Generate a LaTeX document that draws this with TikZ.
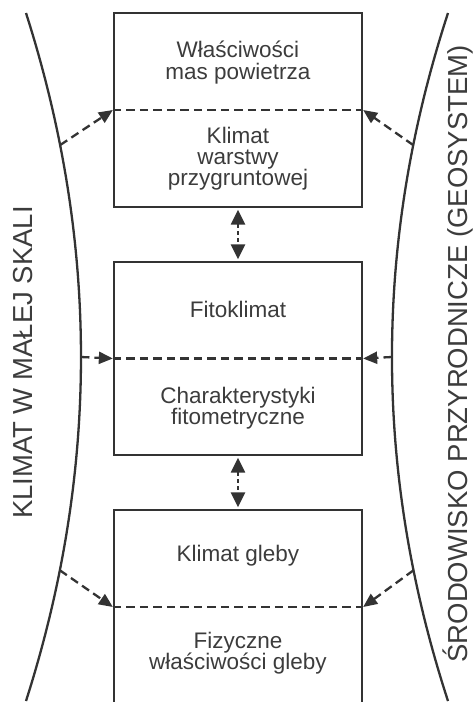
\documentclass[tikz,border=0pt]{standalone}
\usepackage{fontspec}
\setmainfont{Liberation Sans}
\usetikzlibrary{arrows.meta}
\definecolor{ink}{HTML}{333333}
\definecolor{txt}{HTML}{3C3C3C}
\begin{document}
\begin{tikzpicture}[x=1pt,y=-1pt,
  box/.style={draw=ink,line width=2.3pt,minimum width=248pt,inner sep=0pt},
  lbl/.style={text=txt,font=\fontsize{22.5}{24}\selectfont,anchor=base,inner sep=0pt},
  side/.style={text=txt,font=\fontsize{27.5}{30}\selectfont,rotate=90,anchor=base east,inner sep=0pt},
  divline/.style={draw=ink,line width=2.3pt,dash pattern=on 8.5pt off 5pt},
  flow/.style={draw=ink,line width=2.3pt,dash pattern=on 8.5pt off 5pt,-{Triangle[length=14pt,width=12pt]}},
  both/.style={draw=ink,line width=2.3pt,dash pattern=on 4pt off 3pt,{Triangle[length=15pt,width=14pt]}-{Triangle[length=15pt,width=14pt]},shorten <=1.5pt,shorten >=1.5pt},
  curve/.style={draw=ink,line width=2.3pt}]
\useasboundingbox (0,0) rectangle (472,702);
\clip (0,0) rectangle (472,702);
% boxes
\node[box,minimum height=194pt] (b1) at (238,110) {};
\node[box,minimum height=193pt] (b2) at (238,358.5) {};
\node[box,minimum height=194pt] (b3) at (238,607) {};
% dividers
\draw[divline] (b1.west) -- (b1.east);
\draw[divline] (b2.west) -- (b2.east);
\draw[divline] (b3.west) -- (b3.east);
% texts
\node[lbl] (t1a) at (238,57) {Właściwości};
\node[lbl] (t1b) at (238,79) {mas powietrza};
\node[lbl] (t2a) at (238,143) {Klimat};
\node[lbl] (t2b) at (238,164) {warstwy};
\node[lbl] (t2c) at (238,185) {przygruntowej};
\node[lbl] (t3) at (238,317) {Fitoklimat};
\node[lbl] (t4a) at (238,403) {Charakterystyki};
\node[lbl] (t4b) at (238,424) {fitometryczne};
\node[lbl] (t5) at (238,561) {Klimat gleby};
\node[lbl] (t6a) at (238,648) {Fizyczne};
\node[lbl] (t6b) at (238,669) {właściwości gleby};
% side curves
\draw[curve] (26,13) .. controls (99.3,242.3) and (99.3,471.7) .. (26,701)
  coordinate[pos=0.192] (l1) coordinate[pos=0.5] (l2) coordinate[pos=0.81] (l3);
\draw[curve] (448,13) .. controls (373.3,242.3) and (373.3,471.7) .. (448,701)
  coordinate[pos=0.192] (r1) coordinate[pos=0.5] (r2) coordinate[pos=0.81] (r3);
% side labels
\node[side] (sl) at (32,206) {KLIMAT W MAŁEJ SKALI};
\node[side] (sr) at (467,45) {ŚRODOWISKO PRZYRODNICZE (GEOSYSTEM)};
% arrows
\draw[flow] (l1) -- (b1.west);
\draw[flow] (l2) -- (b2.west);
\draw[flow] (l3) -- (b3.west);
\draw[flow] (r1) -- (b1.east);
\draw[flow] (r2) -- (b2.east);
\draw[flow] (r3) -- (b3.east);
\draw[both] (b1.south) -- (b2.north);
\draw[both] (b2.south) -- (b3.north);
\end{tikzpicture}
\end{document}
